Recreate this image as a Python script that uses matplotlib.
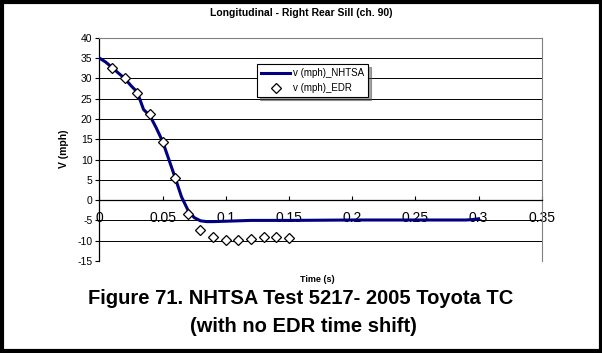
import matplotlib
matplotlib.use("Agg")
import matplotlib.pyplot as plt
import matplotlib.patches as patches
import numpy as np

plt.rcParams['font.family'] = ['Liberation Sans', 'DejaVu Sans']

# NHTSA sill velocity trace (s, mph)
t_nhtsa = [0.0, 0.005, 0.01, 0.015, 0.02, 0.025, 0.03, 0.035, 0.04, 0.045, 0.05,
           0.055, 0.06, 0.065, 0.07, 0.075, 0.08, 0.085, 0.09, 0.1, 0.11, 0.12,
           0.15, 0.2, 0.25, 0.29, 0.295, 0.3]
v_nhtsa = [35.0, 34.0, 32.7, 31.3, 30.0, 28.2, 26.6, 22.3, 20.8, 17.8, 14.5,
           10.0, 5.5, 0.8, -2.4, -4.3, -5.1, -5.3, -5.3, -5.2, -5.1, -5.0,
           -5.0, -4.9, -4.9, -4.9, -4.8, -4.6]

# EDR recorded speed samples
t_edr = [0.01, 0.02, 0.03, 0.04, 0.05, 0.06, 0.07, 0.08, 0.09, 0.10, 0.11,
         0.12, 0.13, 0.14, 0.15]
v_edr = [32.6, 30.1, 26.5, 21.3, 14.4, 5.4, -3.3, -7.4, -9.2, -9.8, -9.8,
         -9.5, -9.2, -9.0, -9.3]

x_ticks = [0, 0.05, 0.1, 0.15, 0.2, 0.25, 0.3, 0.35]
x_labels = ['0', '0.05', '0.1', '0.15', '0.2', '0.25', '0.3', '0.35']
y_ticks = list(range(-15, 41, 5))

fig = plt.figure(figsize=(6.02, 3.53), dpi=100)
ax = fig.add_axes([0.165, 0.2606, 0.735, 0.6326])

ax.plot(t_nhtsa, v_nhtsa, color='#000080', lw=2.2, label='v (mph)_NHTSA', zorder=3)
ax.plot(t_edr, v_edr, ls='none', marker='D', ms=5.5, mfc='white', mec='black',
        mew=0.9, label='v (mph)_EDR', zorder=4)

ax.set_xlim(0, 0.35)
ax.set_ylim(-15, 40)
ax.set_yticks(y_ticks)
ax.set_yticklabels([str(v) for v in y_ticks], fontsize=7.5)
ax.set_xticks(x_ticks)
ax.set_xticklabels(x_labels, fontsize=7)

for y in y_ticks:
    if y != 0:
        ax.axhline(y, color='black', lw=0.7, zorder=1)

# x axis drawn through v = 0
ax.spines['bottom'].set_position(('data', 0))
ax.spines['bottom'].set_color('black')
ax.spines['bottom'].set_linewidth(0.9)
ax.spines['left'].set_color('black')
ax.spines['left'].set_linewidth(0.9)
ax.spines['top'].set_color('#808080')
ax.spines['right'].set_color('#808080')
ax.tick_params(axis='x', direction='in', length=3, pad=8, width=0.8)
ax.tick_params(axis='y', direction='out', length=3, pad=2, width=0.8)

leg = ax.legend(loc='upper left', bbox_to_anchor=(0.357, 0.88), fontsize=7,
                frameon=True, fancybox=False, shadow=True, handlelength=3,
                borderpad=0.4, labelspacing=0.5, handletextpad=0.3,
                borderaxespad=0)
leg.get_frame().set_edgecolor('black')
leg.get_frame().set_linewidth(0.8)

fig.text(0.5, 1 - 13 / 353, 'Longitudinal - Right Rear Sill (ch. 90)',
         ha='center', va='center', fontsize=7.5, fontweight='bold')
fig.text(64 / 602, 1 - 149 / 353, 'V (mph)', rotation=90, ha='center',
         va='center', fontsize=7.5, fontweight='bold')
fig.text(317 / 602, 1 - 279 / 353, 'Time (s)', ha='center', va='center',
         fontsize=6.5, fontweight='bold')
fig.text(301 / 602, 1 - 299 / 353, 'Figure 71. NHTSA Test 5217- 2005 Toyota TC',
         ha='center', va='center', fontsize=14.5, fontweight='bold')
fig.text(303 / 602, 1 - 326 / 353, '(with no EDR time shift)',
         ha='center', va='center', fontsize=14.5, fontweight='bold')

# page frame around the figure
fig.patches.append(patches.Rectangle((0.003, 0.005), 0.995, 0.99,
                                     transform=fig.transFigure, fill=False,
                                     edgecolor='black', lw=3))

fig.savefig('out.png', dpi=100)
